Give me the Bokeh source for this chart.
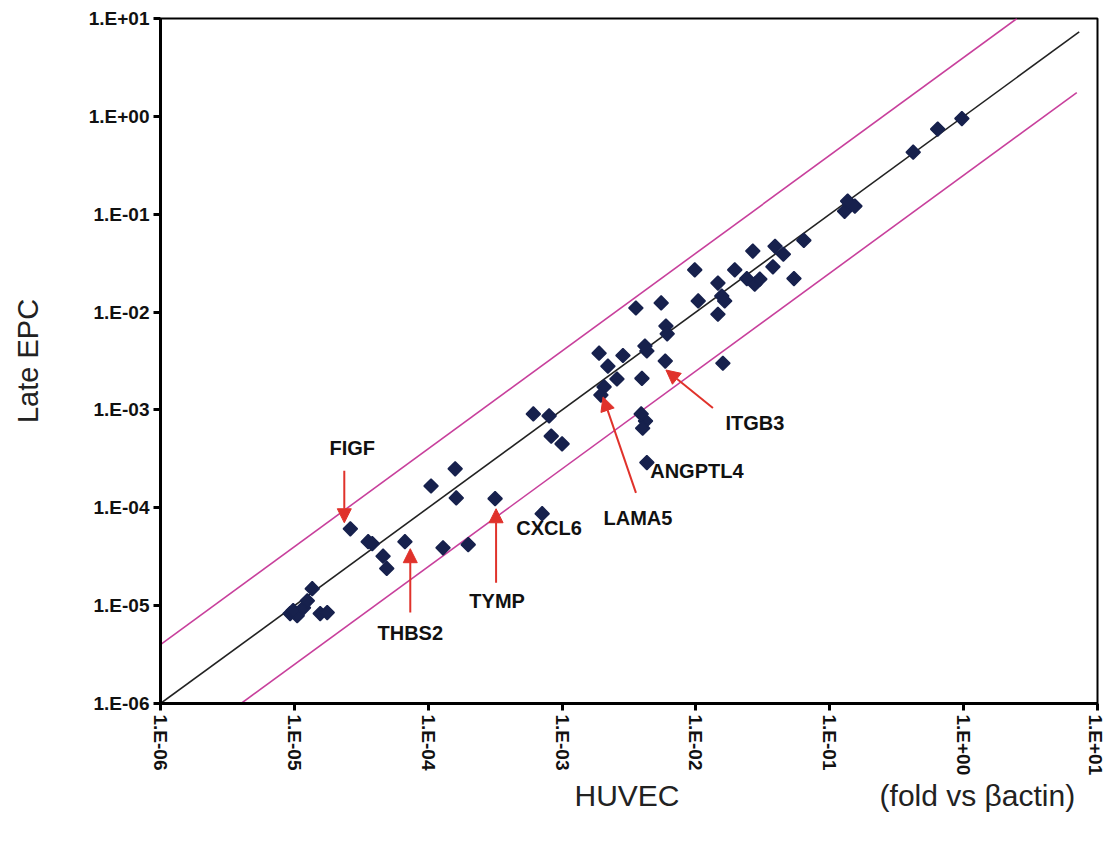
import math
from bokeh.plotting import figure
from bokeh.models import (Range1d, FixedTicker, CustomJSTickFormatter, Label, Arrow,
                          NormalHead, ColumnDataSource)
from bokeh.embed import file_html
from bokeh.resources import INLINE

# ---- data (fold vs beta-actin) ----
huvec = [9.3e-6, 1.05e-5, 1.17e-5, 1.25e-5, 1.36e-5, 1.56e-5, 1.76e-5, 9.8e-6,
         2.62e-5, 3.56e-5, 3.82e-5, 4.6e-5, 4.9e-5, 6.7e-5, 1.05e-4, 1.59e-4, 1.62e-4,
         1.29e-4, 1.99e-4, 3.16e-4, 7.1e-4, 6.1e-4, 8.0e-4, 8.3e-4, 1.0e-3,
         2.06e-3, 1.95e-3, 2.57e-3, 2.2e-3, 1.89e-3, 2.85e-3, 3.95e-3, 4.3e-3, 4.16e-3, 5.9e-3,
         3.56e-3, 5.5e-3, 5.97e-3, 6.1e-3, 4.2e-3, 4.0e-3, 3.9e-3, 4.3e-3,
         1.59e-2, 9.8e-3, 1.04e-2, 1.46e-2, 1.56e-2, 1.64e-2, 1.46e-2, 1.95e-2,
         2.66e-2, 2.4e-2, 2.75e-2, 3.0e-2, 3.76e-2, 3.9e-2, 4.5e-2, 6.4e-2, 5.4e-2,
         0.129, 0.141, 0.154, 0.136, 0.42, 0.64, 0.97]
late_epc = [8.3e-6, 7.9e-6, 9.5e-6, 1.12e-5, 1.49e-5, 8.3e-6, 8.5e-6, 8.9e-6,
            6.1e-5, 4.5e-5, 4.3e-5, 3.2e-5, 2.4e-5, 4.5e-5, 1.67e-4, 2.5e-4, 1.26e-4,
            3.9e-5, 4.2e-5, 1.24e-4, 8.7e-5, 9.1e-4, 8.7e-4, 5.4e-4, 4.5e-4,
            1.72e-3, 1.42e-3, 2.07e-3, 2.8e-3, 3.8e-3, 3.6e-3, 2.1e-3, 4.0e-3, 4.5e-3, 3.16e-3,
            1.1e-2, 1.24e-2, 7.2e-3, 6.0e-3, 7.7e-4, 6.5e-4, 9.1e-4, 2.9e-4,
            3.0e-3, 2.7e-2, 1.3e-2, 1.98e-2, 1.46e-2, 1.3e-2, 9.5e-3, 2.7e-2,
            4.2e-2, 2.2e-2, 1.93e-2, 2.17e-2, 2.9e-2, 4.7e-2, 3.9e-2, 5.4e-2, 2.2e-2,
            0.107, 0.126, 0.121, 0.136, 0.43, 0.74, 0.95]

tick_values = [1e-6, 1e-5, 1e-4, 1e-3, 1e-2, 1e-1, 1e0, 1e1]
x_title = "HUVEC"
x_unit_note = "(fold vs βactin)"
y_title = "Late EPC"

# reference lines: identity and +/- 4-fold
fold = 4.0
identity_x = [1e-6, 7.3]
upper_x = [1e-6, 10 / fold]
lower_x = [fold * 1e-6, 7.0]

# gene annotations (log10 positions)
genes = ["FIGF", "THBS2", "TYMP", "CXCL6", "LAMA5", "ANGPTL4", "ITGB3"]
label_lx = [-4.567, -4.134, -3.485, -3.097, -2.433, -1.993, -1.560]
label_ly = [-3.388, -5.276, -4.949, -4.204, -4.102, -3.622, -3.133]
# arrows (log10 start -> end)
arrow_genes = ["FIGF", "THBS2", "TYMP", "LAMA5", "ITGB3"]
arrow_x0 = [-4.627, -4.134, -3.493, -2.448, -1.873]
arrow_y0 = [-3.622, -5.071, -4.765, -3.847, -2.980]
arrow_x1 = [-4.627, -4.134, -3.493, -2.694, -2.224]
arrow_y1 = [-4.153, -4.418, -4.010, -2.867, -2.592]

FONT = "Liberation Sans"
NB = "\u00a0"

p = figure(width=1105, height=834, x_axis_type="log", y_axis_type="log",
           x_range=Range1d(1e-6, 10), y_range=Range1d(1e-6, 10),
           output_backend="svg", toolbar_location=None,
           min_border_left=160, min_border_right=8, min_border_top=18, min_border_bottom=131)
p.background_fill_color = "white"
p.border_fill_color = "white"
p.xgrid.visible = False
p.ygrid.visible = False
p.outline_line_color = "black"
p.outline_line_width = 2

fmt = CustomJSTickFormatter(code="""
const e = Math.round(Math.log10(tick));
const s = e < 0 ? "-" : "+";
const a = Math.abs(e);
return "1.E" + s + (a < 10 ? "0" : "") + a;
""")

for ax in (p.xaxis[0], p.yaxis[0]):
    ax.ticker = FixedTicker(ticks=tick_values, minor_ticks=[])
    ax.formatter = fmt
    ax.axis_line_width = 3
    ax.axis_line_color = "black"
    ax.major_tick_line_width = 3
    ax.major_tick_line_color = "black"
    ax.major_tick_in = 0
    ax.major_tick_out = 7
    ax.minor_tick_line_color = None
    ax.major_label_text_font = FONT
    ax.major_label_text_font_size = "19px"
    ax.major_label_text_font_style = "bold"
    ax.major_label_text_color = "#111111"
    ax.axis_label_text_font = FONT
    ax.axis_label_text_font_style = "normal"
    ax.axis_label_text_color = "#222222"

p.xaxis.major_label_orientation = -math.pi / 2
p.xaxis.major_label_standoff = 4
p.yaxis.major_label_standoff = 4
# x title centred under the frame, unit note to the right on the same line
p.xaxis.axis_label = NB * 47 + x_title + NB * 24 + x_unit_note
p.yaxis.axis_label = y_title
p.xaxis.axis_label_text_font_size = "30px"
p.yaxis.axis_label_text_font_size = "29px"
p.xaxis.axis_label_standoff = 1
p.yaxis.axis_label_standoff = 42

# reference lines
p.line(identity_x, identity_x, line_color="#222222", line_width=1.6)
p.line(upper_x, [v * fold for v in upper_x], line_color="#c8409c", line_width=1.6)
p.line(lower_x, [v / fold for v in lower_x], line_color="#c8409c", line_width=1.6)

# data points
src = ColumnDataSource(dict(x=huvec, y=late_epc))
p.scatter("x", "y", source=src, marker="square", size=10, angle=math.pi / 4,
          fill_color="#17214d", line_color="#17214d", line_width=1.5)

# arrows
for x0, y0, x1, y1 in zip(arrow_x0, arrow_y0, arrow_x1, arrow_y1):
    p.add_layout(Arrow(x_start=10 ** x0, y_start=10 ** y0, x_end=10 ** x1, y_end=10 ** y1,
                       line_color="#e0322b", line_width=2,
                       end=NormalHead(size=14, fill_color="#e0322b", line_color="#e0322b")))

# gene labels
for g, lx, ly in zip(genes, label_lx, label_ly):
    p.add_layout(Label(x=10 ** lx, y=10 ** ly, text=g, text_align="center",
                       text_baseline="middle", text_font=FONT, text_font_style="bold",
                       text_font_size="20px", text_color="#111111"))

open("out.html", "w").write(file_html(p, INLINE))
